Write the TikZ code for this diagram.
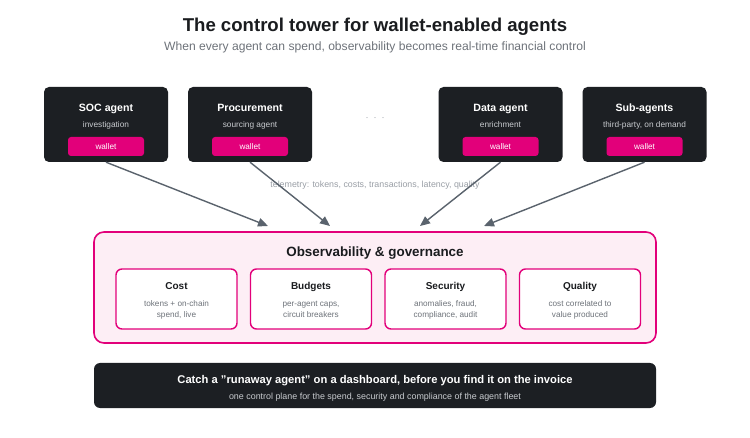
\documentclass[tikz,border=0pt]{standalone}
\usepackage{fontspec}
\setmainfont{Liberation Sans}
\usetikzlibrary{arrows.meta}
\definecolor{darkbox}{HTML}{1C1F23}
\definecolor{magenta}{HTML}{E2007A}
\definecolor{pinkfill}{HTML}{FDEEF5}
\definecolor{arrowgray}{HTML}{5A636D}
\definecolor{subgray}{HTML}{6E737A}
\definecolor{lightgray}{HTML}{9A9FA6}
\definecolor{titledark}{HTML}{1A1C1F}
\definecolor{boxsub}{HTML}{C8CBCF}
\tikzset{
  agentbox/.style={draw=none, fill=darkbox, rounded corners=5pt, minimum width=124pt, minimum height=75pt, inner sep=0pt},
  agenttitle/.style={text=white, font=\bfseries\fontsize{10.6}{13}\selectfont, inner sep=0pt, anchor=base},
  agentsub/.style={text=boxsub, font=\fontsize{8.3}{10}\selectfont, inner sep=0pt, anchor=base},
  walletpill/.style={fill=magenta, rounded corners=3pt, minimum width=76pt, minimum height=19pt, inner sep=0pt, text=white, font=\fontsize{8.2}{9}\selectfont},
  metricbox/.style={draw=magenta, line width=1.4pt, fill=white, rounded corners=6pt, minimum width=121pt, minimum height=60pt, inner sep=0pt},
  metrictitle/.style={text=titledark, font=\bfseries\fontsize{10}{12}\selectfont, inner sep=0pt, anchor=base},
  metricsub/.style={text=subgray, font=\fontsize{8.2}{11.3}\selectfont, align=center, inner sep=0pt, anchor=base},
  flow/.style={draw=arrowgray, line width=1.4pt, -{Triangle[length=10pt,width=8.5pt]}},
}
\begin{document}
\begin{tikzpicture}[x=1pt,y=-1pt]
\useasboundingbox[fill=white] (0,0) rectangle (750,438);
% titles
\node[text=titledark, font=\bfseries\fontsize{18.6}{22}\selectfont, inner sep=0pt, anchor=base] (title) at (375,31.7) {The control tower for wallet-enabled agents};
\node[text=subgray, font=\fontsize{12.1}{14}\selectfont, inner sep=0pt, anchor=base] (subtitle) at (375,50.8) {When every agent can spend, observability becomes real-time financial control};
% agents
\node[agentbox] (soc) at (106,124.5) {};
\node[agenttitle] (soct) at (106,111.8) {SOC agent};
\node[agentsub] (socs) at (106,127.6) {investigation};
\node[walletpill] (socw) at (106,146.5) {wallet};

\node[agentbox] (proc) at (250,124.5) {};
\node[agenttitle] (proct) at (250,111.8) {Procurement};
\node[agentsub] (procs) at (250,127.6) {sourcing agent};
\node[walletpill] (procw) at (250,146.5) {wallet};

\node[agentbox] (data) at (500.5,124.5) {};
\node[agenttitle] (datat) at (500.5,111.8) {Data agent};
\node[agentsub] (datas) at (500.5,127.6) {enrichment};
\node[walletpill] (dataw) at (500.5,146.5) {wallet};

\node[agentbox] (sub) at (644.5,124.5) {};
\node[agenttitle] (subt) at (644.5,111.8) {Sub-agents};
\node[agentsub] (subs) at (644.5,127.6) {third-party, on demand};
\node[walletpill] (subw) at (644.5,146.5) {wallet};

\node[text=lightgray, font=\fontsize{9}{10}\selectfont, inner sep=0pt] (dots) at (375,119) {·\hspace{5pt}·\hspace{5pt}·};

% telemetry label
\node[text=lightgray, font=\fontsize{8.85}{10}\selectfont, inner sep=0pt, anchor=base] (tele) at (375,187.7) {telemetry: tokens, costs, transactions, latency, quality};

% observability box
\node[draw=magenta, line width=1.6pt, fill=pinkfill, rounded corners=10pt, minimum width=562pt, minimum height=111pt, inner sep=0pt] (obs) at (375,287.5) {};
\node[text=titledark, font=\bfseries\fontsize{13.4}{15}\selectfont, inner sep=0pt, anchor=base] (obst) at (375,256.8) {Observability \& governance};

\node[metricbox] (cost) at (176.5,299) {};
\node[metrictitle] (costt) at (176.5,289.6) {Cost};
\node[metricsub] (costs) at (176.5,317.6) {tokens + on-chain\\spend, live};

\node[metricbox] (bud) at (311,299) {};
\node[metrictitle] (budt) at (311,289.6) {Budgets};
\node[metricsub] (buds) at (311,317.6) {per-agent caps,\\circuit breakers};

\node[metricbox] (sec) at (445.5,299) {};
\node[metrictitle] (sect) at (445.5,289.6) {Security};
\node[metricsub] (secs) at (445.5,317.6) {anomalies, fraud,\\compliance, audit};

\node[metricbox] (qual) at (580,299) {};
\node[metrictitle] (qualt) at (580,289.6) {Quality};
\node[metricsub] (quals) at (580,317.6) {cost correlated to\\value produced};

% arrows
\coordinate (e1) at (268,226);
\coordinate (e2) at (330,226);
\coordinate (e3) at (420,226);
\coordinate (e4) at (484,226);
\draw[flow] (soc.south) -- (e1);
\draw[flow] (proc.south) -- (e2);
\draw[flow] (data.south) -- (e3);
\draw[flow] (sub.south) -- (e4);

% bottom bar
\node[fill=darkbox, rounded corners=6pt, minimum width=562pt, minimum height=45pt, inner sep=0pt] (bar) at (375,385.5) {};
\node[text=white, font=\bfseries\fontsize{11.2}{13}\selectfont, inner sep=0pt, anchor=base] (bart) at (375,383.2) {Catch a \symbol{34}runaway agent\symbol{34} on a dashboard, before you find it on the invoice};
\node[text=boxsub, font=\fontsize{8.9}{10}\selectfont, inner sep=0pt, anchor=base] (bars) at (375,399.3) {one control plane for the spend, security and compliance of the agent fleet};
\end{tikzpicture}
\end{document}
